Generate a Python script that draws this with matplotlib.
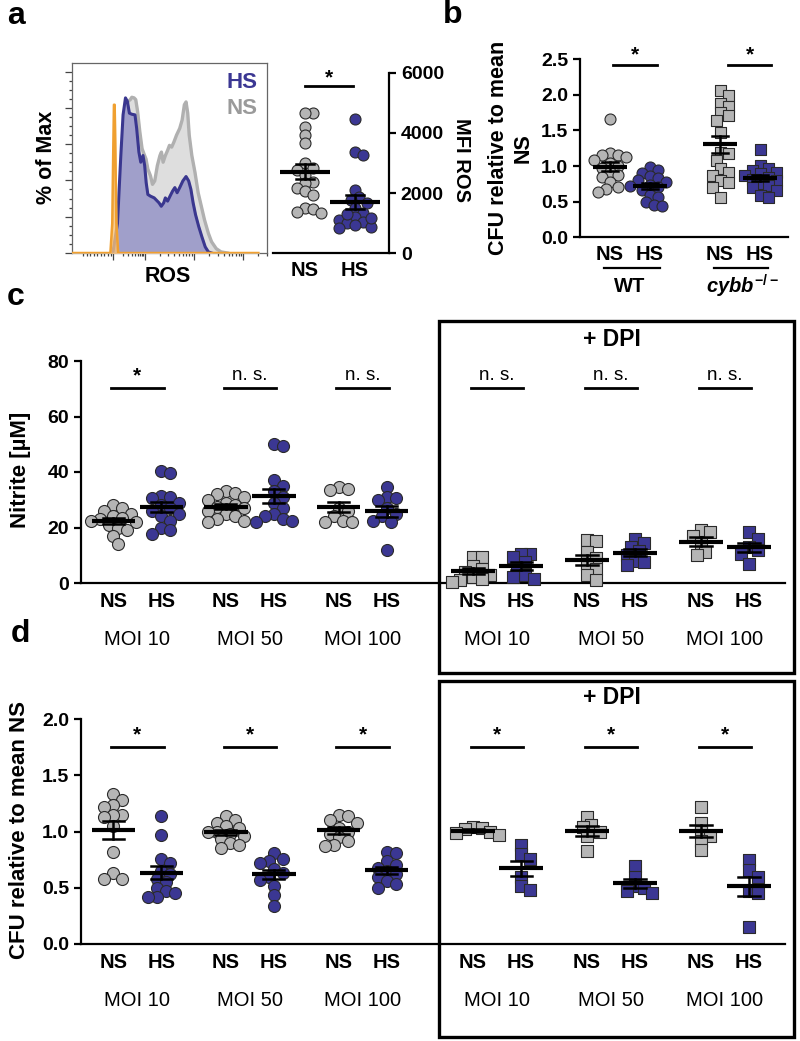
import matplotlib
matplotlib.use('Agg')
import matplotlib.pyplot as plt
import matplotlib.transforms as mtransforms
from matplotlib.patches import Rectangle
import numpy as np

# ---- data ----
# a: ROS histogram (x: channel position 0-100, y: % of max)
hs_x = [21.9, 24.4, 26.2, 27.4, 28.7, 29.7, 30.8, 32.1, 33.8, 34.7, 35.9, 36.9, 38.1, 39.0, 39.8,
        40.7, 42.1, 44.1, 46.7, 47.9, 49.2, 50.1, 51.3, 52.6, 54.0, 55.2, 56.4, 57.8, 59.5, 61.2,
        62.6, 63.8, 65.0, 66.3, 68.0, 69.7, 71.5, 73.2, 74.9]
hs_y = [0, 19, 62.6, 88.7, 99.6, 97.4, 89.8, 89.1, 88.7, 80, 64.8, 58.3, 62.6, 56.1, 45.2,
        37.6, 36.5, 35.4, 32.2, 30, 32.2, 35.4, 33.3, 36.5, 39.8, 42, 38.7, 42, 46.3, 49.1,
        46.3, 40.9, 32.2, 24.6, 17.0, 10.4, 3.9, 0.7, 0]
ns_x = [22.7, 25.3, 27.0, 28.7, 30.1, 31.3, 32.1, 33.3, 34.2, 35.2, 36.4, 37.6, 38.6, 39.7, 40.7,
        42.1, 43.2, 44.4, 45.8, 47.2, 48.0, 48.9, 50.1, 51.3, 52.3, 53.5, 54.7, 56.1, 57.8, 59.1,
        60.3, 61.2, 62.1, 62.9, 64.3, 66.0, 67.7, 69.4, 71.1, 73.2, 74.9, 77.4, 80.0, 83.4]
ns_y = [0, 23.5, 62.6, 90.9, 97.4, 98.5, 100, 99.6, 98.5, 90.9, 77.8, 67, 63.7, 60.4, 53.9,
        49.6, 44.1, 46.3, 56.1, 62.6, 64.8, 58.3, 62.6, 65.9, 69.1, 68.0, 71.3, 75.7, 80, 85.4,
        95.2, 97, 89.8, 75.7, 62.6, 51.7, 38.7, 30, 21.3, 12.6, 7.2, 2.8, 0.7, 0]
ctrl_x = [0, 20.6, 21.6, 22.1, 22.5, 22.9, 23.3, 23.8, 24.8, 100]
ctrl_y = [0, 0, 19, 62.6, 95.2, 95.2, 62.6, 19, 0, 0]

# a: MFI ROS
mfi_ns = [4650, 4650, 4200, 3920, 3650, 3000, 2830, 2780, 2600, 2380, 2330, 2160, 2050, 1940,
          1490, 1450, 1380, 1340]
mfi_hs = [4480, 3360, 3280, 2100, 1850, 1770, 1660, 1490, 1320, 1210, 1100, 1040, 990, 930,
          870, 820, 1150, 1300]

# b: CFU relative to mean NS
b_wt_ns = [1.66, 1.18, 1.16, 1.15, 1.13, 1.09, 1.04, 1.0, 0.97, 0.92, 0.88, 0.84, 0.78, 0.71, 0.68, 0.64]
b_wt_hs = [0.99, 0.95, 0.9, 0.86, 0.83, 0.8, 0.77, 0.74, 0.72, 0.7, 0.66, 0.6, 0.56, 0.5, 0.46, 0.44]
b_ko_ns = [2.07, 2.0, 1.88, 1.84, 1.76, 1.72, 1.65, 1.48, 1.2, 1.18, 1.09, 0.97, 0.92, 0.88, 0.8,
           0.78, 0.71, 0.57]
b_ko_hs = [1.24, 1.02, 0.98, 0.95, 0.92, 0.9, 0.88, 0.85, 0.82, 0.8, 0.76, 0.73, 0.7, 0.66, 0.6, 0.57]

moi_labels = ['MOI 10', 'MOI 50', 'MOI 100']

# c: nitrite [uM]; first three MOI without DPI, last three with DPI
c_ns = [[28, 27, 26, 25, 24, 23.5, 23, 22.5, 22, 21, 20, 19, 17, 14],
        [33, 32.5, 32, 31, 30, 29, 28, 27.5, 27, 26, 25, 24, 23, 22.5, 22],
        [34.5, 34, 33.5, 27, 26, 24, 22.5, 22, 22],
        [9.5, 9.5, 6, 5, 4, 3, 2, 1.5, 1, 0.5],
        [15.5, 15, 11, 9, 7, 5, 3, 1],
        [19, 18.5, 17, 14, 11, 10]]
c_hs = [[40.5, 39.5, 31.5, 31, 30.5, 29, 28, 27, 26, 25, 24, 22.5, 20, 19, 17.5],
        [50, 49.5, 37, 35, 33, 31, 29, 27, 25, 24, 23, 22.5, 22],
        [34.5, 31, 30.5, 30, 27, 25, 24, 22.5, 22, 12],
        [10.5, 10.5, 9.5, 7.5, 5, 3, 2, 1.5],
        [16, 14.5, 13, 11.5, 10, 8, 7.5, 6.5],
        [18.5, 16, 13, 12, 10.5, 7]]
c_sig = ['*', 'n. s.', 'n. s.', 'n. s.', 'n. s.', 'n. s.']

# d: CFU relative to mean NS
d_ns = [[1.33, 1.28, 1.24, 1.22, 1.15, 1.15, 1.13, 1.05, 0.82, 0.63, 0.58, 0.58],
        [1.14, 1.10, 1.08, 1.05, 1.03, 1.00, 1.00, 0.98, 0.96, 0.93, 0.90, 0.88, 0.85],
        [1.15, 1.14, 1.10, 1.08, 1.03, 1.00, 0.98, 0.95, 0.92, 0.88, 0.87],
        [1.04, 1.03, 1.02, 1.00, 0.99, 0.97],
        [1.13, 1.06, 1.04, 1.00, 0.96, 0.83],
        [1.22, 1.08, 1.00, 0.96, 0.92, 0.84]]
d_hs = [[1.14, 0.97, 0.76, 0.72, 0.65, 0.62, 0.58, 0.55, 0.50, 0.47, 0.45, 0.42, 0.42],
        [0.81, 0.76, 0.74, 0.72, 0.67, 0.63, 0.60, 0.57, 0.52, 0.44, 0.34],
        [0.82, 0.81, 0.74, 0.70, 0.68, 0.65, 0.62, 0.60, 0.56, 0.53, 0.50],
        [0.88, 0.80, 0.76, 0.60, 0.52, 0.48],
        [0.69, 0.60, 0.52, 0.50, 0.47, 0.45],
        [0.75, 0.66, 0.60, 0.47, 0.45, 0.15]]
d_sig = ['*'] * 6

# ---- style ----
GREY = '#b5b5b5'
BLUE = '#3b3793'
EDGE = '#2a2a2a'
W, H = 800, 1041

plt.rcParams['font.family'] = ['Liberation Sans', 'DejaVu Sans']
plt.rcParams['font.weight'] = 'bold'
plt.rcParams['font.size'] = 14
plt.rcParams['axes.linewidth'] = 1.6
plt.rcParams['mathtext.fontset'] = 'custom'
plt.rcParams['mathtext.it'] = 'Liberation Sans:italic:bold'
plt.rcParams['mathtext.rm'] = 'Liberation Sans:bold'

fig = plt.figure(figsize=(W / 100, H / 100), dpi=100)


def box(l, t, r, b):
    return [l / W, 1 - b / H, (r - l) / W, (b - t) / H]


def ftext(x, y, s, **kw):
    fig.text(x / W, 1 - y / H, s, **kw)


def style(ax):
    for s in ['top', 'right']:
        ax.spines[s].set_visible(False)
    ax.tick_params(direction='out', length=5, width=1.6, labelsize=14)


def swarm(ax, x0, vals, d):
    pts = ax.transData.transform(np.column_stack([np.full(len(vals), x0), vals]))
    xc = pts[0, 0]
    placed = []
    xs = np.empty(len(vals))
    for i in np.argsort(vals)[::-1]:
        y = pts[i, 1]
        for k in range(60):
            off = ((k + 1) // 2) * d * 0.5 * (1 if k % 2 else -1)
            if all((xc + off - px) ** 2 + (y - py) ** 2 >= d * d for px, py in placed):
                break
        placed.append((xc + off, y))
        xs[i] = xc + off
    return ax.transData.inverted().transform(np.column_stack([xs, pts[:, 1]]))[:, 0]


def dots(ax, x0, vals, color, marker='o', size=12, d=10):
    xs = swarm(ax, x0, vals, d)
    ax.scatter(xs, vals, s=(size * 0.72) ** 2, marker=marker, facecolor=color,
               edgecolor=EDGE, linewidth=0.8, zorder=3, clip_on=False)


def mean_sem(ax, x0, vals, hw, cw):
    m = np.mean(vals)
    se = np.std(vals, ddof=1) / np.sqrt(len(vals))
    ax.plot([x0 - hw, x0 + hw], [m, m], color='black', lw=3, zorder=5, solid_capstyle='butt')
    ax.plot([x0, x0], [m - se, m + se], color='black', lw=1.8, zorder=5)
    for v in (m - se, m + se):
        ax.plot([x0 - cw, x0 + cw], [v, v], color='black', lw=1.8, zorder=5)


def sig(ax, x0, x1, y, ty, txt):
    ax.plot([x0, x1], [y, y], color='black', lw=2, clip_on=False)
    star = txt == '*'
    ax.text((x0 + x1) / 2, ty, txt, ha='center', va='center', clip_on=False,
            fontsize=15 if star else 13.5, fontweight='bold' if star else 'normal')


def under(ax, x, s, dy, weight='bold', size=14.5):
    ax.annotate(s, xy=(x, 0), xycoords=('data', 'axes fraction'), xytext=(0, -dy * 0.72),
                textcoords='offset points', ha='center', va='center', fontweight=weight,
                fontsize=size, annotation_clip=False)


# ---- panel a: histogram ----
axh = fig.add_axes(box(72, 63, 267, 253))
axh.fill_between(ns_x, ns_y, color='#dedede', zorder=1)
axh.plot(ns_x, ns_y, color='#b0b0b0', lw=2.4, zorder=2)
axh.fill_between(hs_x, hs_y, color='#a09fca', zorder=3)
axh.plot(hs_x, hs_y, color='#3a378f', lw=2.2, zorder=4)
axh.fill_between(ctrl_x, ctrl_y, color='#f6c27a', alpha=0.8, zorder=5)
axh.plot(ctrl_x, ctrl_y, color='#f0a030', lw=1.8, zorder=6)
axh.set_xlim(0, 100)
axh.set_ylim(0, 122)
for s in axh.spines.values():
    s.set_linewidth(0.9)
    s.set_color('#666666')
majx = [22, 39, 65.5, 92]
minx = list(np.linspace(6, 21, 9)) + [22 + 17 * np.log10(k) for k in range(2, 10)]
minx += [d0 + 26.5 * np.log10(k) for d0 in (39, 65.5) for k in range(2, 10)]
minx += [92 + 26.5 * np.log10(k) for k in (2, 3)]
axh.set_xticks(majx)
axh.set_xticks(minx, minor=True)
axh.set_yticks(np.arange(0, 120, 23.3))
axh.set_yticks(np.arange(0, 122, 23.3 / 4), minor=True)
axh.tick_params(which='both', direction='out', color='#444444', width=0.9,
                labelbottom=False, labelleft=False)
axh.tick_params(which='major', length=5)
axh.tick_params(which='minor', length=2.5)
axh.text(0.95, 0.90, 'HS', transform=axh.transAxes, ha='right', va='center',
         color=BLUE, fontsize=16)
axh.text(0.95, 0.76, 'NS', transform=axh.transAxes, ha='right', va='center',
         color='#9a9a9a', fontsize=16)
ftext(168, 277, 'ROS', ha='center', va='center', fontsize=15.5)
ftext(47, 157, '% of Max', ha='center', va='center', rotation=90, fontsize=15.5)

# ---- panel a: MFI ----
axm = fig.add_axes(box(273, 73, 389, 253))
style(axm)
axm.spines['left'].set_visible(False)
axm.spines['right'].set_visible(True)
axm.yaxis.tick_right()
axm.set_xlim(-0.64, 1.68)
axm.set_ylim(0, 6000)
axm.set_yticks([0, 2000, 4000, 6000])
axm.set_xticks([])
dots(axm, 0, mfi_ns, GREY, size=11, d=8)
dots(axm, 1, mfi_hs, BLUE, size=11, d=8)
mean_sem(axm, 0, mfi_ns, 0.5, 0.18)
mean_sem(axm, 1, mfi_hs, 0.5, 0.18)
sig(axm, 0, 0.96, 5550, 5850, '*')
under(axm, 0, 'NS', 17)
under(axm, 1, 'HS', 17)
ftext(461, 160, 'MFI ROS', ha='center', va='center', rotation=270, fontsize=14.5)

# ---- panel b ----
axb = fig.add_axes(box(580, 59.3, 788, 237.3))
style(axb)
axb.set_xlim(-0.75, 4.45)
axb.set_ylim(0, 2.5)
axb.set_yticks(np.arange(0, 2.51, 0.5))
axb.set_yticklabels([f'{v:.1f}' for v in np.arange(0, 2.51, 0.5)])
axb.set_xticks([])
bpos = [0, 1, 2.75, 3.75]
bdat = [b_wt_ns, b_wt_hs, b_ko_ns, b_ko_hs]
for i, (p, v) in enumerate(zip(bpos, bdat)):
    col = GREY if i % 2 == 0 else BLUE
    mk = 'o' if i < 2 else 's'
    dots(axb, p, v, col, marker=mk, size=11, d=8 if i < 2 else 8)
    mean_sem(axb, p, v, 0.42, 0.2)
    under(axb, p, 'NS' if i % 2 == 0 else 'HS', 17.5)
sig(axb, 0.08, 1.18, 2.42, 2.56, '*')
sig(axb, 2.95, 4.03, 2.42, 2.56, '*')
tb = mtransforms.blended_transform_factory(axb.transData, axb.transAxes)
for x0, x1 in [(-0.15, 1.25), (2.6, 3.95)]:
    axb.plot([x0, x1], [-30.5 / 178, -30.5 / 178], color='black', lw=1.6,
             transform=tb, clip_on=False)
under(axb, 0.5, 'WT', 49.5)
under(axb, 3.3, r'$cybb^{-/-}$', 49.5)
ftext(511, 148, 'CFU relative to mean\nNS', ha='center', va='center', rotation=90,
      multialignment='center', linespacing=1.2, fontsize=15.5)

# ---- panels c and d ----
pos_ns = [0, 2.35, 4.7, 7.5, 9.875, 12.25]


def moi_panel(rect, ns_groups, hs_groups, sigs, ylim, ticks, fmt, sig_y, sig_ty, ylabel, ylx, yly):
    ax = fig.add_axes(rect)
    style(ax)
    ax.set_xlim(-0.67, 14.0)
    ax.set_ylim(*ylim)
    ax.set_yticks(ticks)
    ax.set_yticklabels([fmt.format(t) for t in ticks])
    ax.set_xticks([])
    for g, p in enumerate(pos_ns):
        mk = 'o' if g < 3 else 's'
        dd = 9 if g < 3 else 8.5
        dots(ax, p, ns_groups[g], GREY, marker=mk, size=12, d=dd)
        dots(ax, p + 1, hs_groups[g], BLUE, marker=mk, size=12, d=dd)
        mean_sem(ax, p, ns_groups[g], 0.45, 0.22)
        mean_sem(ax, p + 1, hs_groups[g], 0.45, 0.22)
        sig(ax, p - 0.05, p + 1.05, sig_y, sig_ty, sigs[g])
        under(ax, p, 'NS', 18.5)
        under(ax, p + 1, 'HS', 18.5)
        under(ax, p + 0.5, moi_labels[g % 3], 56.5, weight='normal')
    ftext(ylx, yly, ylabel, ha='center', va='center', rotation=90, fontsize=16)
    return ax


moi_panel(box(81, 361, 785, 583), c_ns, c_hs, c_sig, (0, 80), [0, 20, 40, 60, 80], '{:.0f}',
          70.4, 74.8, 'Nitrite [µM]', 21, 470)
moi_panel(box(81, 719, 785, 944), d_ns, d_hs, d_sig, (0, 2.0), [0, 0.5, 1.0, 1.5, 2.0], '{:.1f}',
          1.75, 1.86, 'CFU relative to mean NS', 20, 830)

# DPI boxes
for t, b, ty in [(321, 673, 340), (681, 1037, 698)]:
    fig.add_artist(Rectangle((439 / W, 1 - b / H), (794 - 439) / W, (b - t) / H, fill=False,
                             lw=2.4, edgecolor='black', transform=fig.transFigure))
    ftext(612, ty, '+ DPI', ha='center', va='center', fontsize=16.5)

# panel letters
for s, x, y in [('a', 16, 16), ('b', 453, 15), ('c', 16, 297), ('d', 20, 634)]:
    ftext(x, y, s, ha='center', va='center', fontsize=23)

fig.savefig('out.png', dpi=100)
